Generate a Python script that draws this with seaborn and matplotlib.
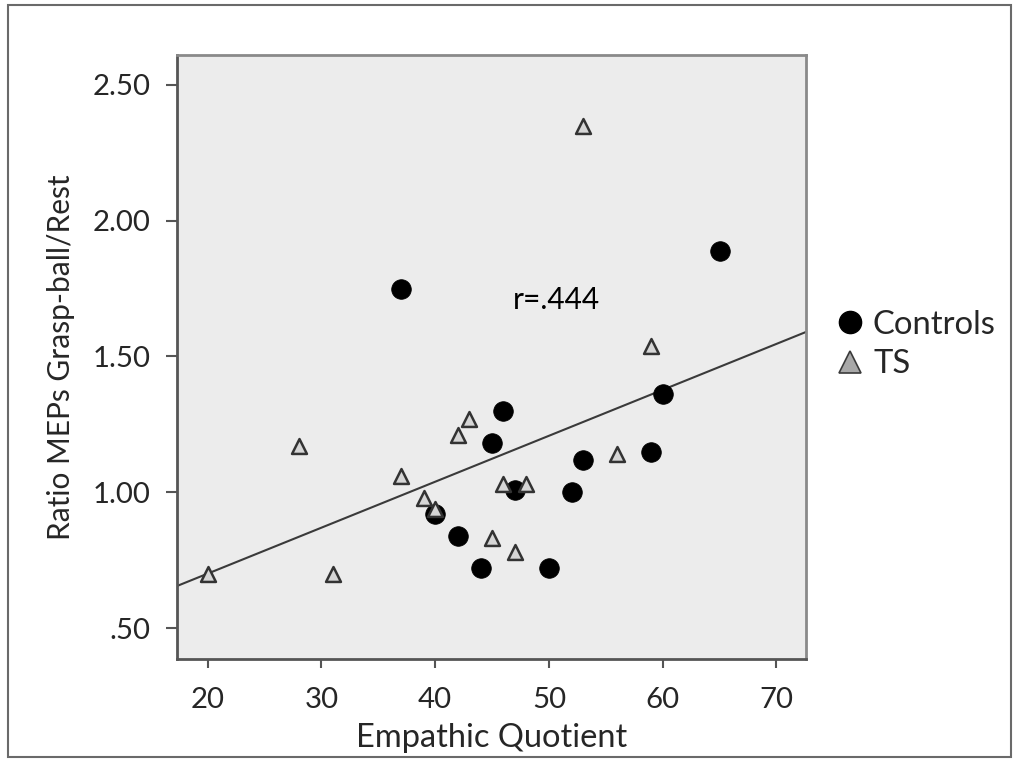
import numpy as np
import pandas as pd
import seaborn as sns
import matplotlib
matplotlib.use("Agg")
import matplotlib.pyplot as plt
from matplotlib.lines import Line2D
from matplotlib.patches import Rectangle
from matplotlib import font_manager as fm

# ---- data ----
controls_eq = [46, 45, 53, 47, 52, 40, 42, 44, 50, 37, 65, 60, 59]
controls_ratio = [1.30, 1.18, 1.12, 1.01, 1.00, 0.92, 0.84, 0.72, 0.72, 1.75, 1.89, 1.36, 1.15]
ts_eq = [20, 28, 31, 37, 39, 40, 42, 43, 45, 46, 47, 48, 56, 53, 59]
ts_ratio = [0.70, 1.17, 0.70, 1.06, 0.98, 0.94, 1.21, 1.27, 0.83, 1.03, 0.78, 1.03, 1.14, 2.35, 1.54]
groups = ["Controls", "TS"]
x_ticks = [20, 30, 40, 50, 60, 70]
y_ticks = [0.5, 1.0, 1.5, 2.0, 2.5]
y_tick_labels = [".50", "1.00", "1.50", "2.00", "2.50"]
r_label = "r=.444"

df = pd.DataFrame({
    "eq": controls_eq + ts_eq,
    "ratio": controls_ratio + ts_ratio,
    "group": ["Controls"] * len(controls_eq) + ["TS"] * len(ts_eq),
})

sns.set_style("white")
names = {f.name for f in fm.fontManager.ttflist}
cal = "Lato" if "Lato" in names else "DejaVu Sans"
plt.rcParams["font.family"] = [cal, "DejaVu Sans"]

W, H = 1018, 761
fig = plt.figure(figsize=(W / 100, H / 100), dpi=100)
fig.patch.set_facecolor("white")
ax = fig.add_axes([177 / W, 1 - 659 / H, (806 - 177) / W, (659 - 55) / H])
ax.set_facecolor("#ececec")
ax.set_xlim(17.3, 72.6)
ax.set_ylim(0.386, 2.61)

sns.regplot(data=df, x="eq", y="ratio", scatter=False, ci=None, truncate=False,
            line_kws=dict(color="#3a3a3a", lw=1.5), ax=ax)

sns.scatterplot(data=df[df.group == "Controls"], x="eq", y="ratio", marker="o",
                s=200, color="black", edgecolor="black", linewidth=0.5, ax=ax, zorder=3)
sns.scatterplot(data=df[df.group == "TS"], x="eq", y="ratio", marker="^",
                s=115, color="#d6d6d6", edgecolor="#333333", linewidth=1.8, ax=ax, zorder=4)

ax.set_xlim(17.3, 72.6)
ax.set_ylim(0.386, 2.61)
ax.set_xticks(x_ticks)
ax.set_xticklabels([str(v) for v in x_ticks], fontsize=21, family=cal)
ax.set_yticks(y_ticks)
ax.set_yticklabels(y_tick_labels, fontsize=21, family=cal)
ax.tick_params(axis="x", direction="out", length=6.5, width=1.5, color="#555555",
               bottom=True, top=False, pad=14)
ax.tick_params(axis="y", direction="out", length=8, width=1.5, color="#555555",
               left=True, right=False, pad=11)

for side, c in [("left", "#555555"), ("bottom", "#555555"), ("top", "#8a8a8a"), ("right", "#8a8a8a")]:
    ax.spines[side].set_visible(True)
    ax.spines[side].set_color(c)
    ax.spines[side].set_linewidth(2)

ax.set_xlabel("Empathic Quotient", fontsize=23, family=cal, labelpad=7)
ax.set_ylabel("Ratio MEPs Grasp-ball/Rest", fontsize=21, family=cal, labelpad=13)

rt = ax.text(50.7, 1.707, r_label, fontsize=21, family=cal, color="black",
             ha="center", va="center")

# fit text sizes to the widths measured on the reference
fig.canvas.draw()
r = fig.canvas.get_renderer()
def fit(t, target, vertical=False):
    bb = t.get_window_extent(r)
    cur = bb.height if vertical else bb.width
    t.set_fontsize(t.get_fontsize() * target / cur)
fit(ax.xaxis.label, 272)
fit(ax.yaxis.label, 365, vertical=True)
fit(rt, 87)
s = [t for t in ax.get_yticklabels() if t.get_text() == "2.50"][0]
ysz = 21 * 58 / s.get_window_extent(r).width
for t in ax.get_yticklabels():
    t.set_fontsize(ysz)
xsz = 21 * 34 / ax.get_xticklabels()[0].get_window_extent(r).width
for t in ax.get_xticklabels():
    t.set_fontsize(xsz)

# measure legend text size
probe = fig.text(0, 0, groups[0], fontsize=20, family=cal)
lsz = 20 * 123 / probe.get_window_extent(r).width
probe.remove()

handles = [
    Line2D([], [], marker="o", linestyle="none", markersize=16, markerfacecolor="black",
           markeredgecolor="black", label=groups[0]),
    Line2D([], [], marker="^", linestyle="none", markersize=16, markerfacecolor="#a8a8a8",
           markeredgecolor="#3a3a3a", markeredgewidth=1.2, label=groups[1]),
]
leg = fig.legend(handles=handles, loc="center left", bbox_to_anchor=(836 / W, 1 - 345 / H),
                 frameon=False, handletextpad=0.25, labelspacing=0.3,
                 prop={"family": cal, "size": lsz}, handlelength=0.9, borderpad=0.2)
fig.canvas.draw()
tb = leg.get_texts()[0].get_window_extent(r)
dx = 873 - tb.x0
yc_target = H - (323 + 366) / 2
lb = leg.get_window_extent(r)
dy = yc_target - (lb.y0 + lb.y1) / 2
leg.set_bbox_to_anchor(((836 + dx) / W, (H - 345 + dy) / H), transform=fig.transFigure)

fig.patches.append(Rectangle((8 / W, 1 - 757 / H), (1011 - 8) / W, (757 - 5) / H,
                             transform=fig.transFigure, fill=False, edgecolor="#6a6a6a", lw=1.5))

fig.savefig("out.png", dpi=100)
